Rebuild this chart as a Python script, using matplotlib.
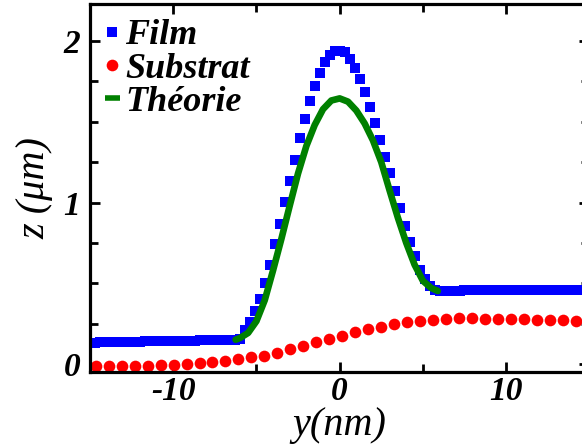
import numpy as np
import matplotlib
matplotlib.use('Agg')
import matplotlib.pyplot as plt
from matplotlib.ticker import MultipleLocator
from matplotlib.lines import Line2D

plt.rcParams['font.family'] = ['Liberation Serif', 'DejaVu Serif']
plt.rcParams['font.weight'] = 'bold'
plt.rcParams['font.style'] = 'italic'
plt.rcParams['axes.unicode_minus'] = False

# film profile (blue squares), sampled every 0.3 nm
film_y = [-15.0, -14.7, -14.4, -14.1, -13.8, -13.5, -13.2, -12.9, -12.6, -12.3,
          -12.0, -11.7, -11.4, -11.1, -10.8, -10.5, -10.2, -9.9, -9.6, -9.3,
          -9.0, -8.7, -8.4, -8.1, -7.8, -7.5, -7.2, -6.9, -6.6, -6.3,
          -6.0, -5.7, -5.4, -5.1, -4.8, -4.5, -4.2, -3.9, -3.6, -3.3,
          -3.0, -2.7, -2.4, -2.1, -1.8, -1.5, -1.2, -0.9, -0.6, -0.3,
          0.0, 0.3, 0.6, 0.9, 1.2, 1.5, 1.8, 2.1, 2.4, 2.7,
          3.0, 3.3, 3.6, 3.9, 4.2, 4.5, 4.8, 5.1, 5.4, 5.7,
          6.0, 6.3, 6.6, 6.9, 7.2, 7.5, 7.8, 8.1, 8.4, 8.7,
          9.0, 9.3, 9.6, 9.9, 10.2, 10.5, 10.8, 11.1, 11.4, 11.7,
          12.0, 12.3, 12.6, 12.9, 13.2, 13.5, 13.8, 14.1, 14.4, 14.7, 15.0]
film_z = [0.132, 0.132, 0.133, 0.133, 0.134, 0.135, 0.135, 0.136, 0.137, 0.137,
          0.138, 0.139, 0.139, 0.140, 0.141, 0.141, 0.142, 0.143, 0.143, 0.144,
          0.145, 0.145, 0.146, 0.147, 0.147, 0.148, 0.149, 0.149, 0.150, 0.151,
          0.155, 0.210, 0.260, 0.330, 0.405, 0.500, 0.615, 0.742, 0.870, 1.003,
          1.135, 1.265, 1.397, 1.520, 1.630, 1.720, 1.805, 1.873, 1.915, 1.937,
          1.940, 1.930, 1.887, 1.831, 1.765, 1.685, 1.592, 1.490, 1.390, 1.285,
          1.180, 1.070, 0.965, 0.857, 0.757, 0.668, 0.583, 0.525, 0.480, 0.460,
          0.453, 0.453, 0.454, 0.454, 0.454, 0.455, 0.455, 0.455, 0.455, 0.456,
          0.456, 0.456, 0.456, 0.456, 0.457, 0.457, 0.457, 0.457, 0.457, 0.457,
          0.457, 0.457, 0.457, 0.457, 0.457, 0.457, 0.457, 0.457, 0.457, 0.457, 0.457]

# substrate profile (red circles)
sub_y = [-14.66, -13.88, -13.10, -12.32, -11.54, -10.76, -9.98, -9.20, -8.42, -7.64,
         -6.86, -6.08, -5.30, -4.52, -3.74, -2.96, -2.18, -1.40, -0.62, 0.16,
         0.94, 1.72, 2.50, 3.28, 4.06, 4.84, 5.62, 6.40, 7.18, 7.96,
         8.74, 9.52, 10.30, 11.08, 11.86, 12.64, 13.42, 14.20]
sub_z = [-0.015, -0.015, -0.015, -0.015, -0.011, -0.009, -0.004, 0.000, 0.006, 0.012,
         0.020, 0.031, 0.041, 0.051, 0.068, 0.090, 0.112, 0.134, 0.155, 0.175,
         0.195, 0.214, 0.231, 0.246, 0.258, 0.268, 0.275, 0.280, 0.282, 0.282,
         0.281, 0.280, 0.278, 0.277, 0.275, 0.273, 0.271, 0.269]

# theory curve (green line)
th_y = [-6.25, -6.0, -5.5, -5.0, -4.5, -4.0, -3.5, -3.0, -2.5, -2.0, -1.5, -1.0, -0.5,
        0.0, 0.5, 1.0, 1.5, 2.0, 2.5, 3.0, 3.5, 4.0, 4.5, 5.0, 5.5, 5.9]
th_z = [0.150, 0.160, 0.192, 0.265, 0.395, 0.580, 0.775, 0.980, 1.180, 1.350, 1.480,
        1.578, 1.632, 1.645, 1.625, 1.570, 1.490, 1.385, 1.250, 1.075, 0.905, 0.750,
        0.615, 0.515, 0.470, 0.452]

fig = plt.figure(figsize=(5.82, 4.47), dpi=100)
# the right part of the frame runs just past the picture edge
ax = fig.add_axes([0.1546, 0.1685, 0.858, 0.8226])

ax.plot(film_y, film_z, 's', color='#0000ff', markersize=6.8, markeredgewidth=0)
ax.plot(sub_y, sub_z, 'o', color='#ff0000', markersize=8.4, markeredgewidth=0)
ax.plot(th_y, th_z, '-', color='#008000', linewidth=4.8, solid_capstyle='round')

ax.set_xlim(-15, 15)
ax.set_ylim(-0.048, 2.23)
ax.xaxis.set_major_locator(MultipleLocator(10))
ax.xaxis.set_minor_locator(MultipleLocator(5))
ax.yaxis.set_major_locator(MultipleLocator(1))
ax.yaxis.set_minor_locator(MultipleLocator(0.25))

for sp in ax.spines.values():
    sp.set_linewidth(2.3)
ax.tick_params(which='both', direction='in', top=True, right=True, width=2, labelsize=24)
ax.tick_params(which='major', length=7)
ax.tick_params(which='minor', length=6)
ax.tick_params(axis='x', pad=3)
ax.tick_params(axis='y', pad=7)

ax.set_xlabel('y(nm)', fontsize=29, labelpad=0)
ax.set_ylabel('z (μm)', fontsize=29, labelpad=7)

handles = [Line2D([], [], ls='none', marker='s', color='#0000ff', markersize=7.5, markeredgewidth=0),
           Line2D([], [], ls='none', marker='o', color='#ff0000', markersize=8.4, markeredgewidth=0),
           Line2D([], [], color='#008000', linewidth=4, solid_capstyle='butt')]
ax.legend(handles, ['Film', 'Substrat', 'Théorie'], loc='upper left', frameon=False,
          fontsize=26, handlelength=0.4, handletextpad=0.15, labelspacing=0.0,
          borderaxespad=0.32, borderpad=0.1)

fig.savefig('out.png', dpi=100)
